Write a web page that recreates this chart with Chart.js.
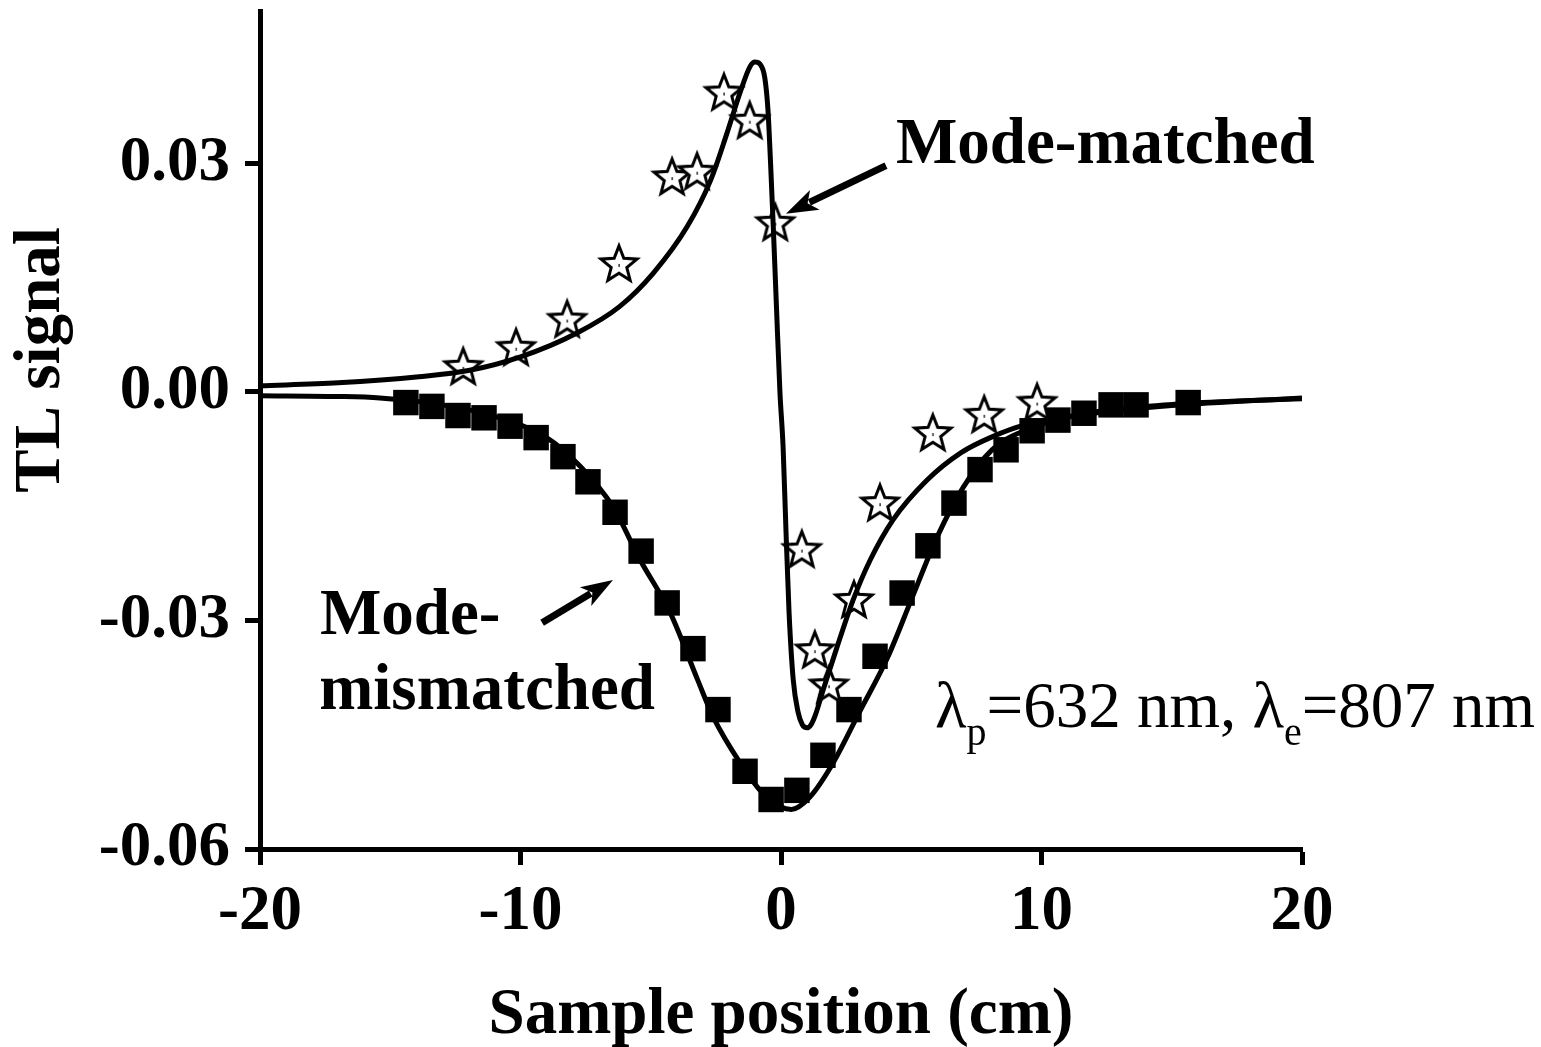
<!DOCTYPE html>
<html>
<head>
<meta charset="utf-8">
<script src="https://cdn.jsdelivr.net/npm/chart.js@4.4.0/dist/chart.umd.min.js"></script>
<style>
body { margin: 0; background: #fff; }
#wrap { width: 1541px; height: 1047px; }
</style>
</head>
<body>
<div id="wrap"><canvas id="tlChart"></canvas></div>
<script>
// measured points: mode-matched (stars)
const starX = [-12.2, -10.17, -8.21, -6.22, -4.18, -3.22, -2.19, -1.2, -0.22, 0.8, 1.3, 1.84, 2.8, 3.8, 5.83, 7.8, 9.83];
const starY = [0.0033, 0.0058, 0.0095, 0.0168, 0.0282, 0.0289, 0.0393, 0.0356, 0.0222, -0.0207, -0.0339, -0.0385, -0.0273, -0.0146, -0.0054, -0.0030, -0.0014];

// measured points: mode-mismatched (squares)
const squareX = [-14.4, -13.4, -12.4, -11.4, -10.4, -9.4, -8.37, -7.41, -6.37, -5.37, -4.37, -3.38, -2.42, -1.38, -0.38, 0.61, 1.61, 2.61, 3.61, 4.65, 5.64, 6.64, 7.64, 8.64, 9.64, 10.63, 11.63, 12.67, 13.63, 15.63];
const squareY = [-0.0014, -0.0019, -0.0031, -0.0034, -0.0045, -0.0060, -0.0085, -0.0118, -0.0158, -0.0209, -0.0277, -0.0337, -0.0417, -0.0498, -0.0535, -0.0523, -0.0477, -0.0417, -0.0347, -0.0264, -0.0202, -0.0146, -0.0102, -0.0076, -0.0051, -0.0037, -0.0028, -0.0017, -0.0017, -0.0014];

// fitted curve: mode-matched
const fitMatchedX = [-20, -17, -13.9, -12, -10, -7.85, -6.2, -4.9, -3.6, -2.7, -2.07, -1.57, -1.19, -1.0, -0.8, -0.62, -0.5, -0.4, -0.3, -0.17, -0.04, 0.08, 0.19, 0.31, 0.47, 0.66, 0.82, 1.0, 1.15, 1.31, 1.62, 2.15, 2.77, 3.42, 4.3, 5.6, 6.9, 8.1, 9.4, 12, 15, 20];
const fitMatchedY = [0.0008, 0.0012, 0.0020, 0.0028, 0.0046, 0.0077, 0.0112, 0.0156, 0.0217, 0.0278, 0.0340, 0.0393, 0.0427, 0.0433, 0.0430, 0.0412, 0.0370, 0.0300, 0.0220, 0.0108, -0.0001, -0.0072, -0.0181, -0.0290, -0.0378, -0.0421, -0.0437, -0.0441, -0.0437, -0.0425, -0.0391, -0.0335, -0.0273, -0.0221, -0.0168, -0.0116, -0.0080, -0.0059, -0.0043, -0.0028, -0.0018, -0.0008];

// fitted curve: mode-mismatched
const fitMismatchedX = [-20, -17, -15.4, -13, -11, -9, -7.7, -6.45, -5.4, -4.25, -3.2, -2.6, -1.57, -0.7, 0, 0.4, 1.1, 2.0, 3.0, 4.1, 5.0, 6.0, 7.0, 8.1, 9.4, 11.4, 13, 15.2, 17.5, 20];
const fitMismatchedY = [-0.0005, -0.0006, -0.0008, -0.0017, -0.0032, -0.0060, -0.0098, -0.0151, -0.0221, -0.0290, -0.0378, -0.0427, -0.0487, -0.0527, -0.0545, -0.0548, -0.0532, -0.0487, -0.0421, -0.0348, -0.0273, -0.0190, -0.0125, -0.0076, -0.0050, -0.0030, -0.0022, -0.0016, -0.0012, -0.0009];

// axis ticks
const xTicks = [-20, -10, 0, 10, 20];
const yTicks = [-0.06, -0.03, 0, 0.03];

const serif = "'Liberation Serif', 'Times New Roman', serif";

function pairUp(xs, ys) {
    return xs.map((x, i) => ({ x: x, y: ys[i] }));
}

// open five-pointed star marker
function makeStar() {
    const c = document.createElement("canvas");
    c.width = 46;
    c.height = 46;
    const g = c.getContext("2d");
    const outer = 19, inner = 8.2;
    g.beginPath();
    for (let k = 0; k < 10; k++) {
        const r = k % 2 === 0 ? outer : inner;
        const a = -Math.PI / 2 + k * Math.PI / 5;
        const px = 23 + r * Math.cos(a);
        const py = 24 + r * Math.sin(a);
        if (k === 0) g.moveTo(px, py); else g.lineTo(px, py);
    }
    g.closePath();
    g.fillStyle = "#fff";
    g.fill();
    g.lineWidth = 3;
    g.lineJoin = "miter";
    g.strokeStyle = "#000";
    g.stroke();
    g.fillStyle = "#000";
    g.fillRect(22.5, 23, 1.2, 3);
    return c;
}
const starImg = makeStar();

// y title, arrows + text notes drawn on top
const notes = {
    id: "notes",
    afterDraw(chart) {
        const ctx = chart.ctx;
        const xs = chart.scales.x, ys = chart.scales.y;
        const P = (x, y) => [xs.getPixelForValue(x), ys.getPixelForValue(y)];

        ctx.save();
        ctx.fillStyle = "#000";
        ctx.strokeStyle = "#000";

        // y axis title, sits a bit above the middle of the axis
        ctx.save();
        ctx.translate(ys.left + 42, ys.getPixelForValue(0.0042));
        ctx.rotate(-Math.PI / 2);
        ctx.font = "bold 65px " + serif;
        ctx.textAlign = "center";
        ctx.textBaseline = "middle";
        ctx.fillText("TL signal", 0, 0);
        ctx.restore();

        const arrows = [
            [[4.03, 0.0297], [0.19, 0.0234]],
            [[-9.17, -0.0303], [-6.45, -0.0247]]
        ];
        arrows.forEach(a => {
            const [x0, y0] = P(a[0][0], a[0][1]);
            const [x1, y1] = P(a[1][0], a[1][1]);
            const ang = Math.atan2(y1 - y0, x1 - x0);
            const headLen = 32, headW = 11;
            const bx = x1 - headLen * Math.cos(ang), by = y1 - headLen * Math.sin(ang);
            ctx.lineWidth = 7;
            ctx.beginPath();
            ctx.moveTo(x0, y0);
            ctx.lineTo(bx + 6 * Math.cos(ang), by + 6 * Math.sin(ang));
            ctx.stroke();
            const nx = -Math.sin(ang), ny = Math.cos(ang);
            ctx.beginPath();
            ctx.moveTo(x1, y1);
            ctx.lineTo(bx + headW * nx, by + headW * ny);
            ctx.lineTo(bx + 8 * Math.cos(ang), by + 8 * Math.sin(ang));
            ctx.lineTo(bx - headW * nx, by - headW * ny);
            ctx.closePath();
            ctx.fill();
        });

        ctx.font = "bold 65px " + serif;
        ctx.textAlign = "left";
        ctx.textBaseline = "alphabetic";
        let p = P(4.41, 0.0301);
        ctx.fillText("Mode-matched", p[0], p[1]);
        p = P(-17.7, -0.0318);
        ctx.fillText("Mode-", p[0], p[1]);
        p = P(-17.73, -0.0416);
        ctx.fillText("mismatched", p[0], p[1]);

        // wavelength note with subscripts
        p = P(5.91, -0.0440);
        let cx = p[0];
        const parts = [["\u03bb", false], ["p", true], ["=632 nm, \u03bb", false], ["e", true], ["=807 nm", false]];
        parts.forEach(part => {
            ctx.font = (part[1] ? "40px " : "65px ") + serif;
            ctx.fillText(part[0], cx, part[1] ? p[1] + 18 : p[1]);
            cx += ctx.measureText(part[0]).width;
        });
        ctx.restore();
    }
};

const tickFont = { family: serif, size: 63, weight: "bold", lineHeight: 1 };
const titleFont = { family: serif, size: 65, weight: "bold", lineHeight: 1 };

new Chart("tlChart", {
    type: "scatter",
    data: {
        datasets: [
            {
                label: "fit mode-matched",
                data: pairUp(fitMatchedX, fitMatchedY),
                showLine: true,
                borderColor: "#000",
                borderWidth: 5,
                pointRadius: 0,
                cubicInterpolationMode: "monotone",
                order: 1
            },
            {
                label: "fit mode-mismatched",
                data: pairUp(fitMismatchedX, fitMismatchedY),
                showLine: true,
                borderColor: "#000",
                borderWidth: 5,
                pointRadius: 0,
                cubicInterpolationMode: "monotone",
                order: 1
            },
            {
                label: "Mode-matched",
                data: pairUp(starX, starY),
                pointStyle: starImg,
                pointRadius: 19,
                order: 2
            },
            {
                label: "Mode-mismatched",
                data: pairUp(squareX, squareY),
                pointStyle: "rect",
                pointRadius: 18,
                backgroundColor: "#000",
                borderColor: "#000",
                borderWidth: 0,
                order: 3
            }
        ]
    },
    options: {
        responsive: true,
        maintainAspectRatio: false,
        animation: false,
        layout: { autoPadding: false, padding: { top: 11, right: 239, bottom: 0, left: 0 } },
        plugins: {
            legend: { display: false },
            tooltip: { enabled: false }
        },
        scales: {
            x: {
                type: "linear",
                min: -20,
                max: 20,
                afterFit(s) {
                    s.height = 198;
                    s.paddingLeft = 0;
                    s.paddingRight = 0;
                },
                afterBuildTicks(s) { s.ticks = xTicks.map(v => ({ value: v })); },
                ticks: {
                    font: tickFont,
                    color: "#000",
                    padding: 16,
                    maxRotation: 0,
                    autoSkip: false,
                    callback: v => String(v)
                },
                grid: {
                    drawOnChartArea: false,
                    drawTicks: true,
                    tickLength: 16,
                    tickWidth: 5,
                    tickColor: "#000",
                    color: "#000"
                },
                border: { display: true, width: 5, color: "#000" },
                title: {
                    display: true,
                    text: "Sample position (cm)",
                    color: "#000",
                    font: titleFont,
                    padding: { top: 0, bottom: -2 }
                }
            },
            y: {
                type: "linear",
                min: -0.06,
                max: 0.05,
                afterFit(s) {
                    s.width = 260;
                    s.paddingTop = 0;
                    s.paddingBottom = 0;
                },
                afterBuildTicks(s) { s.ticks = yTicks.map(v => ({ value: v })); },
                ticks: {
                    font: tickFont,
                    color: "#000",
                    padding: 15,
                    autoSkip: false,
                    callback: v => v.toFixed(2)
                },
                grid: {
                    drawOnChartArea: false,
                    drawTicks: true,
                    tickLength: 15,
                    tickWidth: 5,
                    tickColor: "#000",
                    color: "#000"
                },
                border: { display: true, width: 5, color: "#000" },
                title: { display: false }
            }
        }
    },
    plugins: [notes]
});
</script>
</body>
</html>
